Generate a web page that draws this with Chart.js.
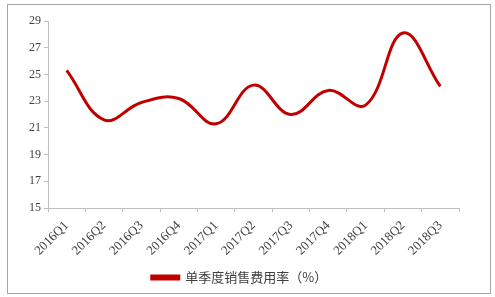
<!DOCTYPE html>
<html>
<head>
<meta charset="utf-8">
<script src="https://cdn.jsdelivr.net/npm/chart.js@4"></script>
<style>
  html, body { margin: 0; padding: 0; background: #fff; }
  #frame { position: absolute; left: 7px; top: 4px; width: 482px; height: 288px; border: 1px solid #a6a6a6; }
  #wrap { position: absolute; left: 0; top: 0; width: 495px; height: 297px; }
</style>
</head>
<body>
<div id="frame"></div>
<div id="wrap"><canvas id="chart" width="495" height="297"></canvas></div>
<script>
// quarterly data
const quarters = ['2016Q1', '2016Q2', '2016Q3', '2016Q4', '2017Q1', '2017Q2', '2017Q3', '2017Q4', '2018Q1', '2018Q2', '2018Q3'];
const sellingRate = [25.3, 21.6, 22.9, 23.2, 21.3, 24.2, 22.0, 23.8, 22.7, 28.1, 24.1];
const yTicks = [15, 17, 19, 21, 23, 25, 27, 29];

const axisGray = '#bfbfbf';
const labelColor = '#404040';

new Chart(document.getElementById('chart').getContext('2d'), {
    type: 'line',
    data: {
        labels: quarters,
        datasets: [{
            label: '单季度销售费用率（%）',
            data: sellingRate,
            borderColor: '#c00000',
            backgroundColor: '#c00000',
            borderWidth: 3,
            tension: 0.4,
            pointRadius: 0,
            fill: false
        }]
    },
    options: {
        responsive: false,
        animation: false,
        layout: { padding: { left: 20, right: 36, top: 21, bottom: 3 } },
        plugins: {
            tooltip: { enabled: false },
            legend: {
                position: 'bottom',
                labels: {
                    boxWidth: 27,
                    boxHeight: 3,
                    padding: 4,
                    color: labelColor,
                    font: { family: '"Noto Sans CJK SC"', size: 13 }
                }
            }
        },
        scales: {
            x: {
                offset: true,
                grid: { offset: true, drawOnChartArea: false, color: axisGray, tickLength: 4 },
                border: { color: axisGray },
                ticks: {
                    minRotation: 45,
                    maxRotation: 45,
                    padding: 6,
                    color: labelColor,
                    font: { family: '"Liberation Serif"', size: 13 }
                },
                afterFit: scale => { scale.height = 59; }
            },
            y: {
                min: 15,
                max: 29,
                afterBuildTicks: scale => { scale.ticks = yTicks.map(v => ({ value: v })); },
                grid: { drawOnChartArea: false, color: axisGray, tickLength: 4 },
                border: { color: axisGray },
                ticks: {
                    padding: 3,
                    color: labelColor,
                    font: { family: '"Liberation Serif"', size: 12 }
                },
                afterFit: scale => { scale.width = 28; }
            }
        }
    }
});
</script>
</body>
</html>
